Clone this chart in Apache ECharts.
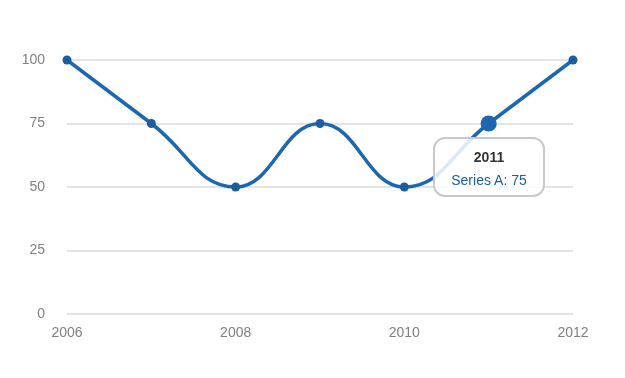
<!DOCTYPE html>
<html><head><meta charset="utf-8">
<script src="https://cdn.jsdelivr.net/npm/echarts@6/dist/echarts.min.js"></script>
<style>html,body{margin:0;padding:0;background:#fff}#c{width:625px;height:378px;position:relative}</style>
</head><body><div id="c"></div>
<script>
var years = [2006, 2007, 2008, 2009, 2010, 2011, 2012];
var seriesA = [100, 75, 50, 75, 50, 75, 100];
var yTicks = [0, 25, 50, 75, 100];
var seriesName = 'Series A';

var chart = echarts.init(document.getElementById('c'));
chart.setOption({
  animation: false,
  textStyle: {fontFamily: 'Liberation Sans, Arial, sans-serif'},
  grid: {left: 67, right: 52, top: 60, bottom: 64},
  xAxis: {
    type: 'value', min: years[0], max: years[years.length - 1], interval: 2,
    axisLine: {show: false}, axisTick: {show: false}, splitLine: {show: false},
    axisLabel: {color: '#808080', fontSize: 14, margin: 12, formatter: function (v) { return String(v); }}
  },
  yAxis: {
    type: 'value', min: yTicks[0], max: yTicks[yTicks.length - 1], interval: 25,
    axisLine: {show: false}, axisTick: {show: false},
    splitLine: {lineStyle: {color: '#e3e3e3', width: 2}},
    axisLabel: {color: '#808080', fontSize: 14, margin: 22}
  },
  tooltip: {
    trigger: 'item', alwaysShowContent: true, triggerOn: 'none',
    transitionDuration: 0,
    backgroundColor: 'rgba(255,255,255,0.85)', borderColor: '#c8c8c8', borderWidth: 2,
    padding: 0,
    extraCssText: 'border-radius:12px;box-shadow:none;width:112px;height:60px;box-sizing:border-box;text-align:center;',
    position: function () { return [433, 137]; },
    formatter: function (p) {
      return '<div style="font-family:Liberation Sans,Arial,sans-serif;padding-top:7px">' +
        '<div style="font-weight:bold;font-size:14px;color:#333;line-height:22px">' + p.value[0] + '</div>' +
        '<div style="font-size:14px;color:#1a5ea0;line-height:24px">' + p.seriesName + ': ' + p.value[1] + '</div></div>';
    }
  },
  series: [{
    name: seriesName, type: 'line', smooth: 0.45,
    data: years.map(function (y, i) { return [y, seriesA[i]]; }),
    symbol: 'circle', symbolSize: 9,
    itemStyle: {color: '#1a5ea0'},
    lineStyle: {color: '#1a5ea0', width: 3.5},
    emphasis: {scale: 1.8, lineStyle: {width: 3.5}}
  }]
});
chart.dispatchAction({type: 'highlight', seriesIndex: 0, dataIndex: 5});
chart.dispatchAction({type: 'showTip', seriesIndex: 0, dataIndex: 5});
</script></body></html>
